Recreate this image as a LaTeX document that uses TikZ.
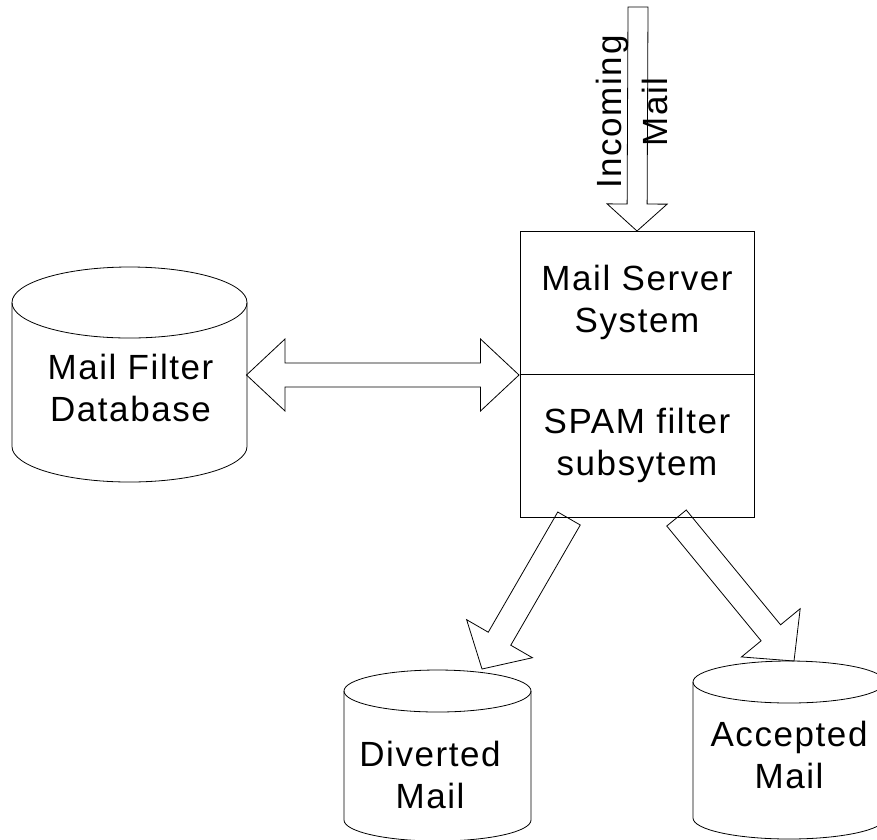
\documentclass[tikz,border=0pt]{standalone}
\usepackage{fontspec}
\setmainfont{Liberation Sans}[LetterSpace=4.5]
\usetikzlibrary{shapes.geometric,positioning,calc}

\tikzset{
  every node/.style={font=\fontsize{35}{42}\selectfont},
  sysbox/.style={draw,rectangle,align=center,minimum width=234pt,minimum height=143pt,inner sep=0pt,outer sep=0pt},
  storebox/.style={rectangle,inner sep=0pt,outer sep=0pt},
  storetext/.style={align=center,inner sep=0pt},
}

% cylinder store: name, centre x, centre y, width, height, cap radius (in pt)
\newcommand{\storecyl}[6]{%
  \node[storebox,minimum width=#4pt,minimum height=#5pt] (#1) at (#2,#3) {};
  \path (#1.north) ++(0pt,-#6pt) coordinate (#1-top);
  \path (#1.south) ++(0pt,#6pt) coordinate (#1-bot);
  \draw (#1-top) ellipse [x radius=#4pt/2, y radius=#6pt];
  \draw ($(#1-top)+(-#4pt/2,0pt)$) -- ($(#1-bot)+(-#4pt/2,0pt)$)
    arc [start angle=180, end angle=360, x radius=#4pt/2, y radius=#6pt]
    -- ($(#1-top)+(#4pt/2,0pt)$);
}
% fat arrow: from, to, shaft half width, head half width, head length
\newcommand{\fatarrow}[5]{%
  \coordinate (fa-h) at ($(#2)!#5!(#1)$);
  \draw ($(#1)!#3!90:(#2)$) -- ($(fa-h)!#3!-90:(#1)$) -- ($(fa-h)!#4!-90:(#1)$)
    -- (#2) -- ($(fa-h)!#4!90:(#1)$) -- ($(fa-h)!#3!90:(#1)$) -- ($(#1)!#3!-90:(#2)$) -- cycle;
}
% fat double arrow, same arguments
\newcommand{\fatdblarrow}[5]{%
  \coordinate (da-a) at ($(#1)!#5!(#2)$);
  \coordinate (da-b) at ($(#2)!#5!(#1)$);
  \draw (#1) -- ($(da-a)!#4!90:(#2)$) -- ($(da-a)!#3!90:(#2)$) -- ($(da-b)!#3!-90:(#1)$)
    -- ($(da-b)!#4!-90:(#1)$) -- (#2) -- ($(da-b)!#4!90:(#1)$) -- ($(da-b)!#3!90:(#1)$)
    -- ($(da-a)!#3!-90:(#2)$) -- ($(da-a)!#4!-90:(#2)$) -- cycle;
}

\begin{document}
\begin{tikzpicture}[x=1pt,y=-1pt,line width=0.8pt]
  \useasboundingbox (0,0) rectangle (877,839);
  \clip (0,0) rectangle (877,839);

  % server
  \node[sysbox] (server) at (637,302.5) {Mail Server\\System};
  \node[sysbox] (spam) [below=0pt of server] {SPAM filter\\subsytem};

  % stores
  \storecyl{db}{129.5}{374.5}{235}{215}{35.5}
  \node[storetext] (dbtext) at (130.5,387.5) {Mail Filter\\Database};

  \storecyl{div}{437.5}{755.5}{187}{171}{21}
  \node[storetext] (divtext) at (430,775) {Diverted\\Mail};

  \storecyl{acc}{789}{750}{192}{178}{21}
  \node[storetext] (acctext) at (789,755) {Accepted\\Mail};

  % incoming mail
  \coordinate (mailin) at (638,7);
  \node[storetext,rotate=90,font=\fontsize{35}{46}\selectfont] (intext) at (631.5,112) {Incoming\\Mail};
  \fatarrow{mailin}{server.north}{10pt}{30pt}{27pt}

  % database link
  \coordinate (dbport) at (246.5,375);
  \coordinate (srvport) at (519,375);
  \fatdblarrow{dbport}{srvport}{12pt}{36pt}{38.5pt}

  % filter outputs
  \coordinate (divout) at (569,518.5);
  \coordinate (divin) at (482,669);
  \coordinate (accout) at (676.5,518);
  \coordinate (accin) at (794,661);
  \fatarrow{divout}{divin}{13pt}{38pt}{35pt}
  \fatarrow{accout}{accin}{12.6pt}{38pt}{36.5pt}
\end{tikzpicture}
\end{document}
